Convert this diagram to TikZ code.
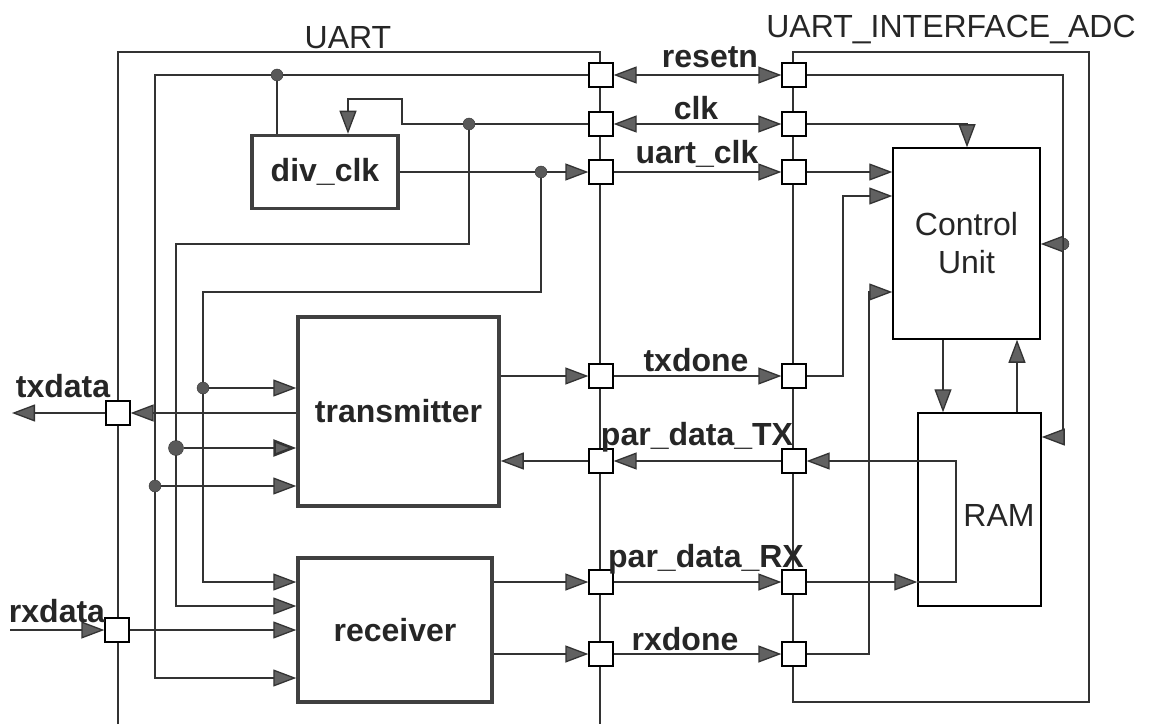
\documentclass[tikz,border=0pt]{standalone}
\usepackage{fontspec}
\setmainfont{Liberation Sans}
\usetikzlibrary{arrows.meta}
\begin{document}
\begin{tikzpicture}[x=1pt,y=-1pt,
  >={Triangle[length=23pt,width=17pt,fill=black!62]},
  every node/.style={font=\fontsize{32}{38}\selectfont, text=black!85},
  w/.style={draw=black!80, line width=1.3pt},
  port/.style={draw=black, fill=white, line width=1.3pt, minimum size=24pt, inner sep=0pt},
  blockthick/.style={draw=black!75, line width=3.5pt, inner sep=0pt, font=\fontsize{32}{38}\selectfont\bfseries},
  blockthin/.style={draw=black, line width=1.5pt, inner sep=0pt, align=center},
  lbl/.style={font=\fontsize{32}{38}\selectfont\bfseries, anchor=base, inner sep=0pt},
  ttl/.style={anchor=base, inner sep=0pt},
  jdot/.style={circle, fill=black!65, draw=black!80, inner sep=0pt, minimum size=12pt},
]
\fill[white] (0,0) rectangle (1153,724);

% module outlines
\draw[w, line width=1.6pt] (118,724) -- (118,52) -- (600,52) -- (600,724);
\draw[w, line width=1.6pt] (793,52) rectangle (1089,702);
\node[ttl] (tU) at (348,49) {UART};
\node[ttl] (tI) at (951,38) {UART\_INTERFACE\_ADC};

% blocks
\node[blockthick, minimum width=146pt, minimum height=73pt] (div) at (325,172) {div\_clk};
\node[blockthick, minimum width=201pt, minimum height=189pt] (tx) at (398.5,411.5) {transmitter};
\node[blockthick, minimum width=194pt, minimum height=144pt] (rx) at (395,630) {receiver};
\node[blockthin, minimum width=147pt, minimum height=191pt] (cu) at (966.5,243.5) {Control\\Unit};
\node[blockthin, minimum width=123pt, minimum height=193pt] (ram) at (979.5,509.5) {};
\node (ramT) at (999,515) {RAM};

% ports
\node[port] (pUr) at (601,75) {};
\node[port] (pUc) at (601,124) {};
\node[port] (pUu) at (601,172) {};
\node[port] (pUtd) at (601,376) {};
\node[port] (pUtx) at (601,461) {};
\node[port] (pUrx) at (601,582) {};
\node[port] (pUrd) at (601,654) {};
\node[port] (pIr) at (794,75) {};
\node[port] (pIc) at (794,124) {};
\node[port] (pIu) at (794,172) {};
\node[port] (pItd) at (794,376) {};
\node[port] (pItx) at (794,461) {};
\node[port] (pIrx) at (794,582) {};
\node[port] (pIrd) at (794,654) {};
\node[port] (pTx) at (118,413) {};
\node[port] (pRx) at (117,630) {};

% resetn inside UART
\coordinate (a1) at (155,678);
\draw[w,->] (pUr.west) -| (a1) -- (a1 -| rx.west);
\node[jdot] (dR1) at (277,75) {};
\draw[w] (dR1) -- (dR1 |- div.north);
\node[jdot] (dR2) at (155,486) {};
\draw[w,->] (dR2) -- (dR2 -| tx.west);

% clk inside UART
\node[jdot] (dC1) at (469,124) {};
\draw[w] (pUc.west) -- (dC1);
\coordinate (c1) at (402,99);
\coordinate (c2) at (348,99);
\draw[w,->] (dC1) -- (dC1 -| c1) -- (c1) -- (c2) -- (c2 |- div.north);
\coordinate (c3) at (469,244);
\coordinate (c4) at (176,244);
\coordinate (c5) at (176,606);
\draw[w,->] (dC1) -- (c3) -- (c4) -- (c5) -- (c5 -| rx.west);
\node[jdot, minimum size=15pt] (dC2) at (176,448) {};
\draw[w, line width=2.6pt, ->] (dC2) -- (dC2 -| tx.west);

% uart_clk inside UART
\node[jdot] (dU1) at (541,172) {};
\draw[w] (div.east) -- (dU1);
\draw[w,->] (dU1) -- (pUu.west);
\coordinate (u1) at (541,292);
\coordinate (u2) at (203,292);
\coordinate (u3) at (203,582);
\draw[w,->] (dU1) -- (u1) -- (u2) -- (u3) -- (u3 -| rx.west);
\node[jdot] (dU2) at (203,388) {};
\draw[w,->] (dU2) -- (dU2 -| tx.west);

% txdata / rxdata
\draw[w,->] (tx.west |- pTx) -- (pTx.east);
\coordinate (txo) at (12,413);
\draw[w,->] (pTx.west) -- (txo);
\coordinate (rxi) at (10,630);
\draw[w,->] (rxi) -- (pRx.west);
\draw[w,->] (pRx.east) -- (pRx -| rx.west);

% transmitter / receiver to UART ports
\draw[w,->] (tx.east |- pUtd) -- (pUtd.west);
\draw[w,->] (pUtx.west) -- (pUtx -| tx.east);
\draw[w,->] (rx.east |- pUrx) -- (pUrx.west);
\draw[w,->] (rx.east |- pUrd) -- (pUrd.west);

% between the modules
\draw[w,<->] (pUr.east) -- (pIr.west);
\draw[w,<->] (pUc.east) -- (pIc.west);
\draw[w,->] (pUu.east) -- (pIu.west);
\draw[w,->] (pUtd.east) -- (pItd.west);
\draw[w,->] (pItx.west) -- (pUtx.east);
\draw[w,->] (pUrx.east) -- (pIrx.west);
\draw[w,->] (pUrd.east) -- (pIrd.west);

% inside UART_INTERFACE_ADC
\coordinate (r1) at (1063,75);
\coordinate (r2) at (1063,437);
\draw[w,->] (pIr.east) -- (r1) -- (r2) -- (r2 -| ram.east);
\node[jdot] (dR3) at (1063,244) {};
\draw[w,->] (dR3) -- (dR3 -| cu.east);
\coordinate (k1) at (967,124);
\draw[w,->] (pIc.east) -- (k1) -- (k1 |- cu.north);
\draw[w,->] (pIu.east) -- (pIu -| cu.west);
\coordinate (t1) at (843,196);
\draw[w,->] (pItd.east) -| (t1) -- (t1 -| cu.west);
\coordinate (d1) at (869,292);
\draw[w,->] (pIrd.east) -| (d1) -- (d1 -| cu.west);
\draw[w,->] (pIrx.east) -- (pIrx -| ram.west);
\coordinate (m1) at (956,582);
\coordinate (m2) at (956,461);
\draw[w,->] (pIrx -| ram.west) -- (m1) -- (m2) -- (pItx.east);
\coordinate (v1) at (943,0);
\coordinate (v2) at (1017,0);
\draw[w,->] (cu.south -| v1) -- (ram.north -| v1);
\draw[w,->] (ram.north -| v2) -- (cu.south -| v2);

% labels
\node[lbl] (lR) at (710,68) {resetn};
\node[lbl] (lC) at (696,120) {clk};
\node[lbl] (lU) at (697,163) {uart\_clk};
\node[lbl] (lTD) at (696,371) {txdone};
\node[lbl] (lPT) at (697,445) {par\_data\_TX};
\node[lbl] (lPR) at (706,567) {par\_data\_RX};
\node[lbl] (lRD) at (685,650) {rxdone};
\node[lbl] (lTx) at (63,397) {txdata};
\node[lbl] (lRx) at (57,622) {rxdata};
\end{tikzpicture}
\end{document}
